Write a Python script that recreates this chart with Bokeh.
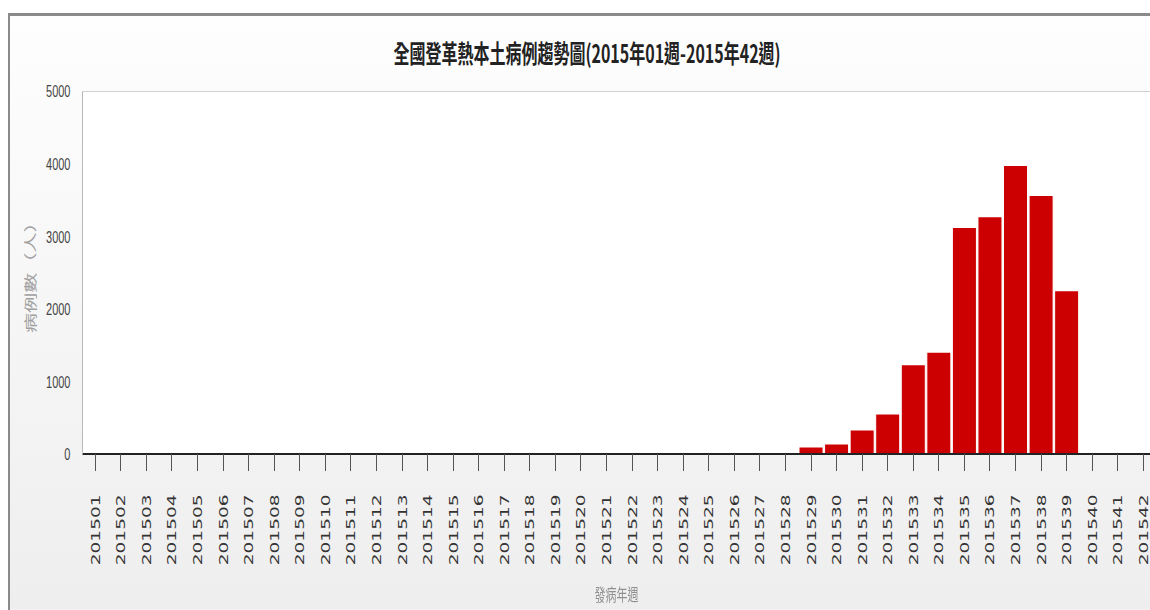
import math
from bokeh.plotting import figure
from bokeh.models import FixedTicker, Span, InlineStyleSheet
from bokeh.embed import file_html
from bokeh.resources import INLINE

# ---- data ----
weeks = ["201501", "201502", "201503", "201504", "201505", "201506", "201507",
         "201508", "201509", "201510", "201511", "201512", "201513", "201514",
         "201515", "201516", "201517", "201518", "201519", "201520", "201521",
         "201522", "201523", "201524", "201525", "201526", "201527", "201528",
         "201529", "201530", "201531", "201532", "201533", "201534", "201535",
         "201536", "201537", "201538", "201539", "201540", "201541", "201542"]
cases = [0, 0, 0, 0, 0, 0, 0,
         0, 0, 0, 0, 0, 0, 0,
         0, 0, 0, 0, 0, 0, 0,
         0, 0, 0, 0, 0, 0, 0,
         100, 140, 335, 555, 1235, 1405, 3127,
         3274, 3980, 3567, 2255, 0, 0, 0]
y_ticks = [0, 1000, 2000, 3000, 4000, 5000]
title_text = "全國登革熱本土病例趨勢圖(2015年01週-2015年42週)"
y_title = "病例數（人）"
x_title = "發病年週"

xs = list(range(1, len(weeks) + 1))

CJK = "Noto Sans CJK TC"
SY = 1.55  # the reference picture is stretched vertically

p = figure(width=1142, height=385, output_backend="svg", toolbar_location=None,
           x_range=(0.5, 42.28), y_range=(0, 5000),
           min_border_left=74, min_border_right=0, min_border_top=50,
           min_border_bottom=101)

p.margin = (13, 0, 0, 8)
css = """
:host > .bk-Canvas, :host > div.bk-Canvas {
  transform: scaleY(%s);
  transform-origin: 0 0;
  background: linear-gradient(#fefefe, #eeeeee);
  box-shadow: inset 2px 2px 0 #8a8a8a;
}
""" % SY
p.stylesheets = [InlineStyleSheet(css=css)]

p.border_fill_color = None
p.background_fill_color = "white"
p.outline_line_color = None
p.xgrid.visible = False
p.ygrid.visible = False

p.vbar(x=xs, top=cases, width=0.94, fill_color="#cc0000", line_color="white", line_width=1)

p.add_layout(Span(location=5000, dimension="width", line_color="#c0c0c0", line_width=1))

# title
p.title.text = title_text
p.title.align = "left"
p.title.offset = 311
p.title.vertical_align = "top"
p.title.standoff = 23
p.title.text_font = CJK
p.title.text_font_size = "16px"
p.title.text_font_style = "bold"
p.title.text_color = "#222222"

# y axis
ya = p.yaxis[0]
ya.ticker = FixedTicker(ticks=y_ticks)
ya.major_tick_out = 0
ya.major_tick_in = 0
ya.minor_tick_out = 0
ya.minor_tick_in = 0
ya.axis_line_color = "#b8b8b8"
ya.major_label_standoff = 12
ya.major_label_text_font = "Liberation Sans"
ya.major_label_text_font_size = "11px"
ya.major_label_text_color = "#444444"
ya.axis_label = y_title
ya.axis_label_text_font = CJK
ya.axis_label_text_font_size = "13px"
ya.axis_label_text_font_style = "normal"
ya.axis_label_text_color = "#a0a0a0"
ya.axis_label_standoff = 4

# x axis
xa = p.xaxis[0]
xa.ticker = FixedTicker(ticks=xs)
xa.major_label_overrides = {x: w for x, w in zip(xs, weeks)}
xa.major_label_orientation = math.pi / 2
xa.major_tick_out = 11
xa.major_tick_in = 0
xa.minor_tick_out = 0
xa.minor_tick_in = 0
xa.major_tick_line_color = "#555555"
xa.axis_line_color = "#222222"
xa.axis_line_width = 1.3
xa.major_label_standoff = 15
xa.major_label_text_font = "DejaVu Sans"
xa.major_label_text_font_size = "12px"
xa.major_label_text_color = "#333333"
xa.axis_label = x_title
xa.axis_label_text_font = CJK
xa.axis_label_text_font_size = "11px"
xa.axis_label_text_font_style = "normal"
xa.axis_label_text_color = "#909090"
xa.axis_label_standoff = 7

open("out.html", "w").write(file_html(p, INLINE))
